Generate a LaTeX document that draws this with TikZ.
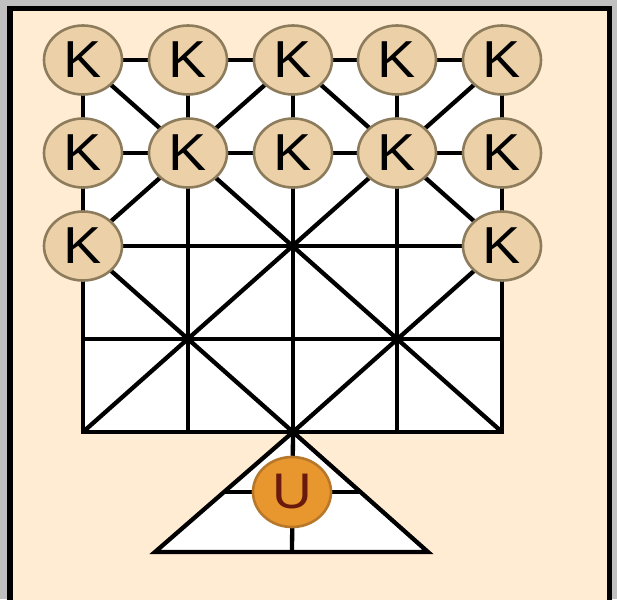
\documentclass[tikz,border=0pt]{standalone}
\usepackage{fontspec}
\setmainfont{Liberation Sans}
\usetikzlibrary{shapes.geometric}
\definecolor{outergray}{HTML}{C0C0C0}
\definecolor{paper}{HTML}{FFECD3}
\definecolor{kfill}{HTML}{ECD0A8}
\definecolor{kedge}{HTML}{8C7C5C}
\definecolor{ufill}{HTML}{E8962E}
\definecolor{uedge}{HTML}{B8782C}
\definecolor{utext}{HTML}{6A1A0C}
\tikzset{
  boardline/.style={line width=4.3pt, black},
  kpiece/.style={ellipse, draw=kedge, line width=2.6pt, fill=kfill,
    minimum width=78pt, minimum height=69pt, inner sep=0pt,
    font=\fontsize{52}{52}\selectfont},
  upiece/.style={ellipse, draw=uedge, line width=2.6pt, fill=ufill,
    minimum width=78pt, minimum height=70pt, inner sep=0pt,
    font=\fontsize{50}{50}\selectfont, text=utext},
}
\begin{document}
\begin{tikzpicture}[x=1pt,y=-1pt]
\useasboundingbox (0,0) rectangle (617,599);
\fill[outergray] (0,0) rectangle (617,599);
\fill[black] (7,6) rectangle (612,620);
\fill[paper] (13,11.5) rectangle (606.5,620);
% grid coordinates
\foreach \i/\x in {0/83,1/188,2/293,3/397,4/502}{
  \foreach \j/\y in {0/60,1/153,2/246,3/339,4/432}{
    \coordinate (p\i\j) at (\x,\y);
  }
}
\coordinate (tl) at (155,552);
\coordinate (tr) at (428,552);
\coordinate (tm) at (292,552);
\coordinate (ml) at (224,492);
\coordinate (mr) at (361,492);
% board fill
\fill[white] (p00) rectangle (p44);
\fill[white] (p24) -- (tl) -- (tr) -- cycle;
% grid lines
\foreach \j in {0,...,4}{ \draw[boardline] (p0\j) -- (p4\j); }
\foreach \i in {0,...,4}{ \draw[boardline] (p\i0) -- (p\i4); }
\draw[boardline] (p00) -- (p44);
\draw[boardline] (p40) -- (p04);
\draw[boardline] (p02) -- (p20) -- (p42) -- (p24) -- cycle;
\draw[boardline, line cap=rect] (p04) -- (p44);
% triangle
\draw[boardline, line join=miter] (p24) -- (tl) -- (tr) -- cycle;
\draw[boardline] (p24) -- (tm);
\draw[boardline] (ml) -- (mr);
% pieces
\foreach \i in {0,...,4}{
  \node[kpiece] (k\i0) at (p\i0) {\scalebox{1.1}[1]{K}};
  \node[kpiece] (k\i1) at (p\i1) {\scalebox{1.1}[1]{K}};
}
\node[kpiece] (k02) at (p02) {\scalebox{1.1}[1]{K}};
\node[kpiece] (k42) at (p42) {\scalebox{1.1}[1]{K}};
\node[upiece] (u) at (292,492) {\scalebox{1.1}[1]{U}};
\end{tikzpicture}
\end{document}
